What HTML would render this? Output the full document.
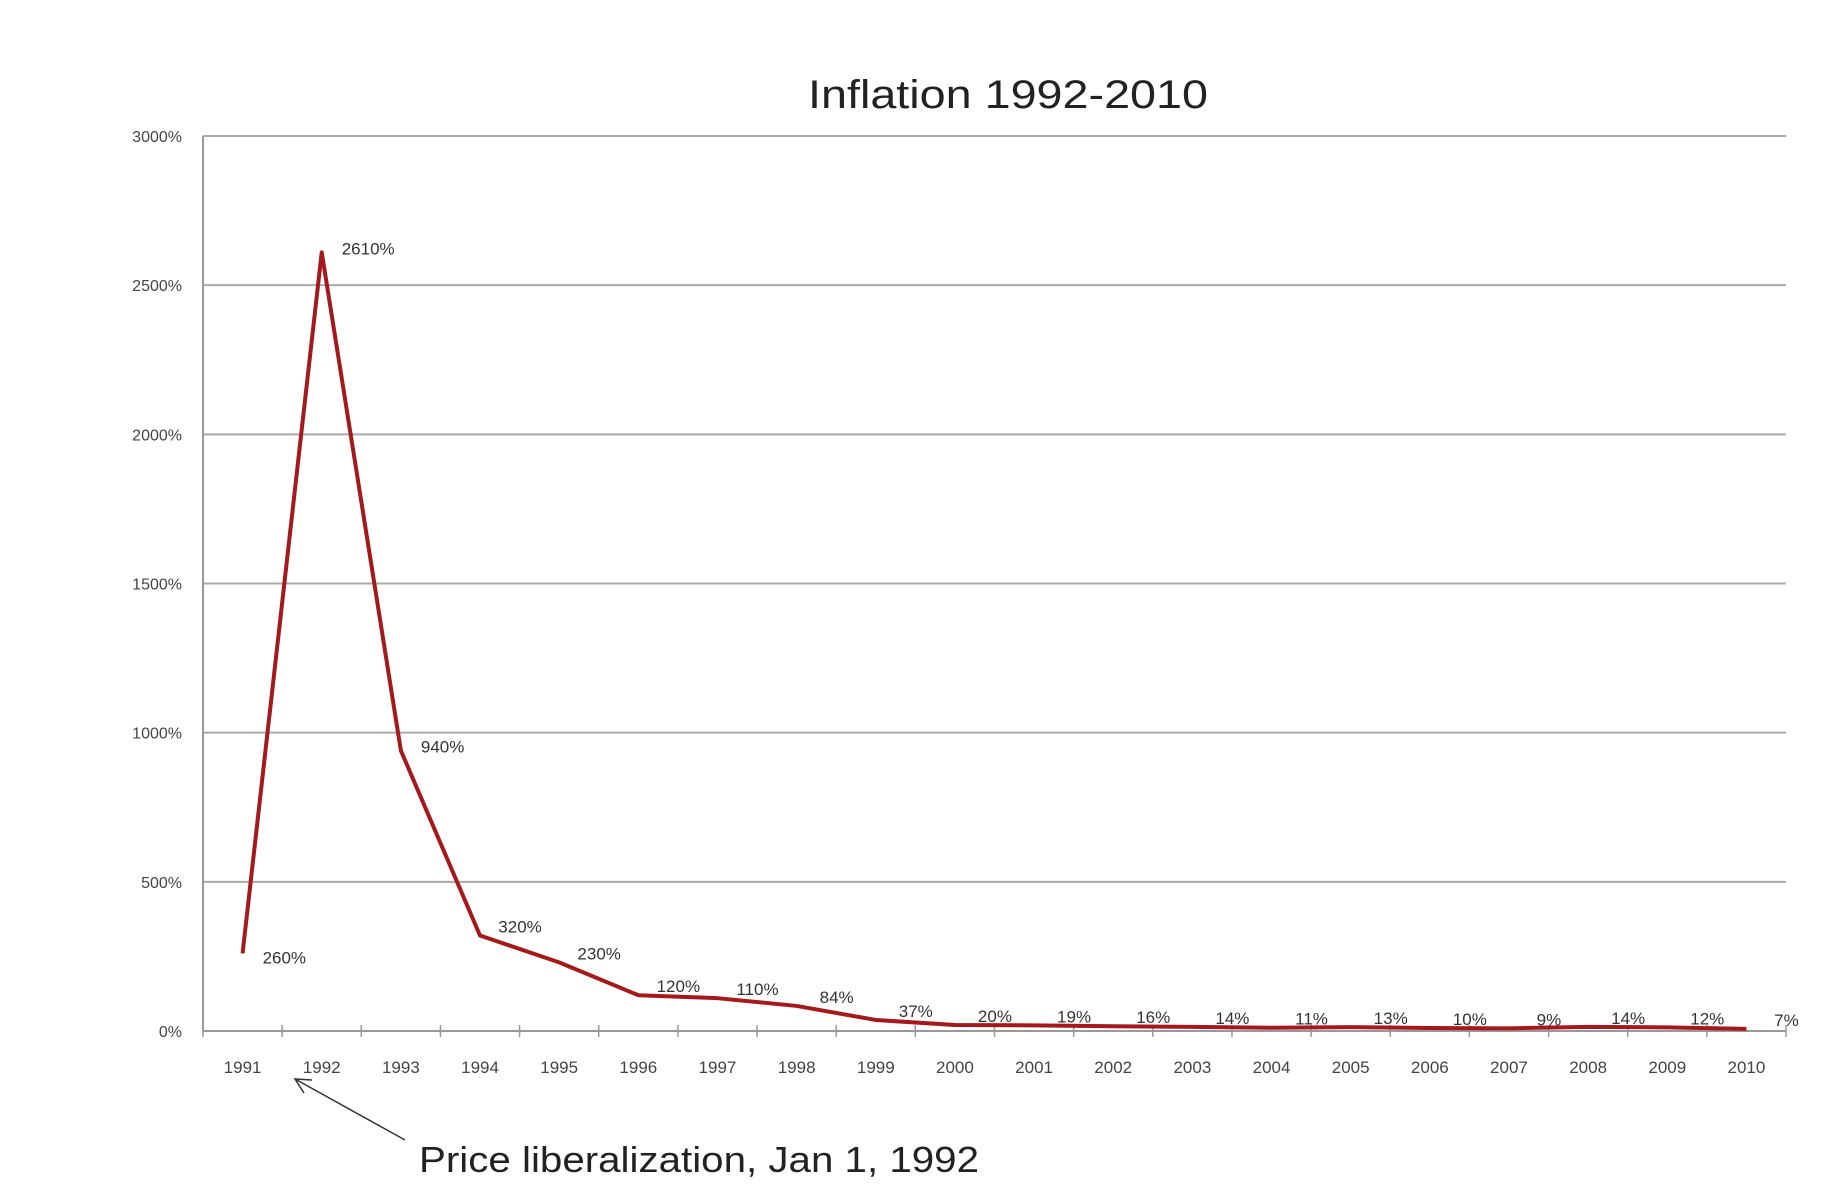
<!DOCTYPE html>
<html><head><meta charset="utf-8"><style>
html,body{margin:0;padding:0;background:#fff;}
svg{display:block;font-family:"Liberation Sans",sans-serif;}
</style></head><body>
<svg id="chart" width="1842" height="1202" viewBox="0 0 1842 1202" xmlns="http://www.w3.org/2000/svg">
<text x="1008" y="108" text-anchor="middle" font-size="40" fill="#222" textLength="400" lengthAdjust="spacingAndGlyphs">Inflation 1992-2010</text>
<g id="grid"></g>
<g id="yaxis"></g>
<g id="xaxis"></g>
<g id="series"></g>
<g id="labels"></g>
<line x1="405" y1="1140" x2="295" y2="1079" stroke="#333" stroke-width="1.5"/>
<polyline points="312,1080 295,1079 304,1093" fill="none" stroke="#333" stroke-width="1.5"/>
<text x="419" y="1172" font-size="36" fill="#222" textLength="560" lengthAdjust="spacingAndGlyphs">Price liberalization, Jan 1, 1992</text>
</svg>
<script>
const years = ["1991","1992","1993","1994","1995","1996","1997","1998","1999","2000","2001","2002","2003","2004","2005","2006","2007","2008","2009","2010"];
const inflation = [260,2610,940,320,230,120,110,84,37,20,19,16,14,11,13,10,9,14,12,7];
const valueLabels = ["260%","2610%","940%","320%","230%","120%","110%","84%","37%","20%","19%","16%","14%","11%","13%","10%","9%","14%","12%","7%"];
const yTicks = [0,500,1000,1500,2000,2500,3000];
const yTickLabels = ["0%","500%","1000%","1500%","2000%","2500%","3000%"];

const NS = "http://www.w3.org/2000/svg";
const X0 = 203, X1 = 1786, Y0 = 1031, Y1 = 136;
const band = (X1 - X0) / years.length;
const xPos = i => X0 + band * (i + 0.5);
const yPos = v => Y0 - (v / 3000) * (Y0 - Y1);
function mk(tag, attrs, parent) {
  const e = document.createElementNS(NS, tag);
  for (const k in attrs) e.setAttribute(k, attrs[k]);
  parent.appendChild(e);
  return e;
}
const grid = document.getElementById('grid'), ya = document.getElementById('yaxis'),
      xa = document.getElementById('xaxis'), ser = document.getElementById('series'),
      lab = document.getElementById('labels');
yTicks.forEach((t, i) => {
  const y = yPos(t);
  if (t > 0) {
    const g = mk('line', {x1: X0, x2: X1, y1: y, y2: y, stroke: '#aaa', 'stroke-width': 2}, grid);
    
    
  }
  const tx = mk('text', {x: 182, y: y + 6, 'text-anchor': 'end', 'font-size': 16, fill: '#444'}, ya);
  tx.textContent = yTickLabels[i];
  
  
});
const yl = mk('line', {x1: X0, x2: X0, y1: Y1, y2: Y0, stroke: '#999', 'stroke-width': 2}, ya);


const xl = mk('line', {x1: X0, x2: X1, y1: Y0, y2: Y0, stroke: '#999', 'stroke-width': 2}, xa);


for (let i = 0; i <= years.length; i++) {
  const x = X0 + band * i;
  const tk = mk('line', {x1: x, x2: x, y1: Y0 - 6, y2: Y0 + 6, stroke: '#999', 'stroke-width': 1.5}, xa);
  
  
}
years.forEach((yr, i) => {
  const tx = mk('text', {x: xPos(i), y: 1073, 'text-anchor': 'middle', 'font-size': 17, fill: '#444'}, xa);
  tx.textContent = yr;
  
  
});
const pts = inflation.map((v, i) => xPos(i) + ',' + yPos(v)).join(' ');
const line = mk('polyline', {points: pts, fill: 'none', stroke: '#a3191c', 'stroke-width': 4, 'stroke-linejoin': 'round'}, ser);


inflation.forEach((v, i) => {
  let x = xPos(i), y = yPos(v), anchor = 'start';
  if (i === 0) { x += 20; y += 10; }
  else if (i < 3) { x += 20; y += 2; }
  else { x += 40; y -= 3; anchor = 'middle'; }
  const tx = mk('text', {x: x, y: y, 'text-anchor': anchor, 'font-size': 17, fill: '#333'}, lab);
  tx.textContent = valueLabels[i];
  
  
});
</script>
</body></html>
